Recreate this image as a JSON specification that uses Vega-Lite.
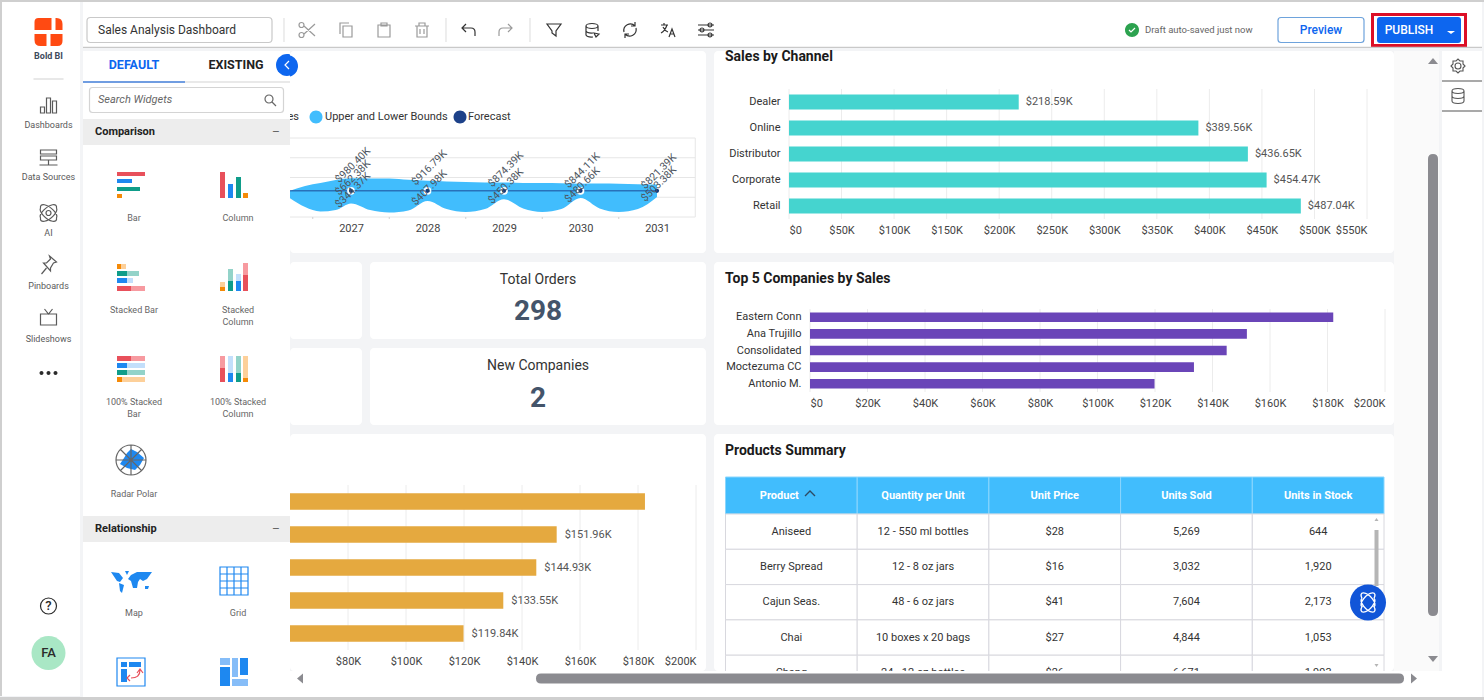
{
"$schema":"https://vega.github.io/schema/vega-lite/v6.json",
"background":"#f3f4f6",
"padding":0,
"params":[{"name":"glyphs","value":{
 "logo":"M -10 -14 H 3 V -2 H -14 V -10 Q -14 -14 -10 -14 Z M 7 -14 H 8 Q 14 -14 14 -8 V -2 H 7 Z M -14 2 H -2 V 14 H -8 Q -14 14 -14 8 Z M 2 2 H 14 V 9 Q 14 14 9 14 H 2 Z",
 "dots":"M -9 0 A 2 2 0 1 1 -5 0 A 2 2 0 1 1 -9 0 M -2 0 A 2 2 0 1 1 2 0 A 2 2 0 1 1 -2 0 M 5 0 A 2 2 0 1 1 9 0 A 2 2 0 1 1 5 0",
 "fa":"M 17 0 A 17 17 0 1 1 -17 0 A 17 17 0 1 1 17 0",
 "divider":"M -15 0 H 15",
 "dash":"M -8 8 V 2 H -4 V 8 Z M -2 8 V -7 H 2 V 8 Z M 4 8 V -4 H 8 V 8 Z",
 "server":"M -8 -8 H 8 V -4 H -8 Z M -8 -2 H 8 V 2 H -8 Z M 0 2 V 7 M -9 7 H 9",
 "atom":"M -8 -5 A 10 4.5 40 1 1 8 5 A 10 4.5 40 1 1 -8 -5 M 8 -5 A 10 4.5 -40 1 0 -8 5 A 10 4.5 -40 1 0 8 -5 M 2.5 0 A 2.5 2.5 0 1 1 -2.5 0 A 2.5 2.5 0 1 1 2.5 0",
 "pin":"M 1 -9 L 8 -3 L 5 -2 L 2 3 L 2 6 L -5 -2 L -2 -2 L 2 -6 Z M -2 3 L -7 9",
 "tv":"M -8 -4 H 8 V 7 H -8 Z M -4 -9 L 0 -4 L 4 -9",
 "help":"M 8 0 A 8 8 0 1 1 -8 0 A 8 8 0 1 1 8 0",
 "okdisc":"M 7 0 A 7 7 0 1 1 -7 0 A 7 7 0 1 1 7 0",
 "redbox":"M -48 -17 H 48 V 17 H -48 Z M -45 -14 V 14 H 45 V -14 Z",
 "publishbtn":"M -39 -13 H 39 Q 42 -13 42 -10 V 10 Q 42 13 39 13 H -39 Q -42 13 -42 10 V -10 Q -42 -13 -39 -13 Z",
 "caret":"M -4 1 H 4 L 0 4 Z",
 "namebox":"M -89 -12.5 H 89 Q 92.5 -12.5 92.5 -9 V 9 Q 92.5 12.5 89 12.5 H -89 Q -92.5 12.5 -92.5 9 V -9 Q -92.5 -12.5 -89 -12.5 Z",
 "baseline":"M -96.5 17.4 H 1302.5",
 "sep":"M 0 -12 V 12",
 "scissors":"M -4 -4 L 7 6 M -4 4 L 7 -6 M -4 -5 A 2.5 2.5 0 1 1 -9 -5 A 2.5 2.5 0 1 1 -4 -5 M -4 5 A 2.5 2.5 0 1 1 -9 5 A 2.5 2.5 0 1 1 -4 5",
 "copy":"M -3 -4 H 6 V 7 H -3 Z M -6 4 V -7 H 3",
 "paste":"M -6 -5 H 6 V 7 H -6 Z M -3 -7 H 3 V -4 H -3 Z",
 "delete":"M -7 -4 H 7 M -3 -4 V -7 H 3 V -4 M -5 -4 V 7 H 5 V -4 M -2 -1 V 4 M 2 -1 V 4",
 "undo":"M -6 -2 H 3 Q 7 -2 7 2 V 6 M -2 -6 L -6 -2 L -2 2",
 "redo":"M 6 -2 H -3 Q -7 -2 -7 2 V 6 M 2 -6 L 6 -2 L 2 2",
 "filter":"M -7 -6 H 7 L 2 1 V 6 L -2 3 V 1 Z",
 "db":"M -6 -4 A 6 2.5 0 1 1 6 -4 A 6 2.5 0 1 1 -6 -4 M -6 -4 V 5 A 6 2.5 0 0 0 1 7 M 6 -4 V 1 M -6 1 A 6 2.5 0 0 0 1 3 M 2 3 L 7 4 L 4 7 Z",
 "refresh":"M -6 2 A 6.5 6.5 0 0 1 5 -4 M 6 -2 A 6.5 6.5 0 0 1 -5 4 M 5 -8 V -4 H 1 M -5 8 V 4 H -1",
 "translate":"M -7 -5 H 0 M -4 -7 V -5 M -1 -5 Q -3 1 -7 3 M -5 -3 Q -3 1 0 2 M 1 7 L 4 -1 L 7 7 M 2 4 H 6",
 "sliders":"M -8 -5 H 8 M -8 0 H 8 M -8 5 H 8 M 6 -5 A 2 2 0 1 1 2 -5 A 2 2 0 1 1 6 -5 M -2 0 A 2 2 0 1 1 -6 0 A 2 2 0 1 1 -2 0 M 6 5 A 2 2 0 1 1 2 5 A 2 2 0 1 1 6 5",
 "tick":"M -3 0 L -1 2 L 3 -2",
 "previewbox":"M -40 -12.5 H 40 Q 43 -12.5 43 -9.5 V 9.5 Q 43 12.5 40 12.5 H -40 Q -43 12.5 -43 9.5 V -9.5 Q -43 -12.5 -40 -12.5 Z",
 "band":"M -103.5 -13 H 103.5 V 13 H -103.5 Z",
 "tabblue":"M -51 -1 H 51 V 1 H -51 Z",
 "collapse":"M 11 0 A 11 11 0 1 1 -11 0 A 11 11 0 1 1 11 0",
 "bar-r":"M -14 -13 H 14 V -9 H -14 Z","bar-b":"M -14 -6 H 1 V -2 H -14 Z","bar-t":"M -14 2 H 9 V 6 H -14 Z","bar-o":"M -14 9 H -9 V 13 H -14 Z",
 "col-r":"M -14 -13 H -9 V 13 H -14 Z","col-b":"M -6 -1 H -1 V 13 H -6 Z","col-t":"M 2 -8 H 7 V 13 H 2 Z","col-o":"M 9 8 H 14 V 13 H 9 Z",
 "sb-r":"M -14 9 H 0 V 14 H -14 Z","sb-b":"M -14 1 H -4 V 6 H -14 Z","sb-t":"M -14 -6 H -4 V -1 H -14 Z","sb-o":"M -14 -13 H -10 V -8 H -14 Z",
 "sb-rl":"M 0 9 H 14 V 14 H 0 Z","sb-bl":"M -4 1 H 2 V 6 H -4 Z","sb-tl":"M -4 -6 H 8 V -1 H -4 Z","sb-ol":"M -10 -13 H -5 V -8 H -10 Z",
 "sc-r":"M 9 -2 H 14 V 14 H 9 Z","sc-b":"M 2 4 H 7 V 14 H 2 Z","sc-t":"M -6 4 H -1 V 14 H -6 Z","sc-o":"M -14 10 H -9 V 14 H -14 Z",
 "sc-rl":"M 9 -14 H 14 V -2 H 9 Z","sc-bl":"M 2 -3 H 7 V 4 H 2 Z","sc-tl":"M -6 -8 H -1 V 4 H -6 Z","sc-ol":"M -14 5 H -9 V 10 H -14 Z",
 "pb-r":"M -14 -13 H 0 V -8 H -14 Z","pb-b":"M -14 -6 H -4 V -1 H -14 Z","pb-t":"M -14 1 H -4 V 6 H -14 Z","pb-o":"M -14 8 H -9 V 13 H -14 Z",
 "pb-rl":"M 0 -13 H 14 V -8 H 0 Z","pb-bl":"M -4 -6 H 14 V -1 H -4 Z","pb-tl":"M -4 1 H 14 V 6 H -4 Z","pb-ol":"M -9 8 H 14 V 13 H -9 Z",
 "pc-r":"M -14 -1 H -9 V 13 H -14 Z","pc-b":"M -6 4 H -1 V 13 H -6 Z","pc-t":"M 2 4 H 7 V 13 H 2 Z","pc-o":"M 9 9 H 14 V 13 H 9 Z",
 "pc-rl":"M -14 -13 H -9 V -1 H -14 Z","pc-bl":"M -6 -13 H -1 V 4 H -6 Z","pc-tl":"M 2 -13 H 7 V 4 H 2 Z","pc-ol":"M 9 -13 H 14 V 9 H 9 Z",
 "radar":"M 0 -11 L 6 -8 L 13 -2 L 9 5 L 4 10 L -4 8 L -11 4 L -7 -2 L -4 -7 Z",
 "map":"M -20 -9 L -12 -8 L -8 -3 L -11 1 L -14 0 Z M -12 2 L -7 4 L -9 12 L -11 10 Z M -6 -10 L -2 -10 L -4 -6 Z M 0 -6 L 6 -9 L 21 -9 L 16 -2 L 12 0 L 9 -2 L 7 1 L 6 7 L 2 7 L 0 0 L -3 -2 Z M 14 5 L 18 5 L 17 8 L 14 8 Z",
 "rel":"M -10 -10 H -4 V -5 H -10 Z M -2 -10 H 10 V -5 H -2 Z M -10 -3 H -4 V 10 H -10 Z",
 "tile":"M -14 -5 H -4 V 14 H -14 Z M 6 -14 H 14 V 3 H 6 Z",
 "tilel":"M -14 -14 H -4 V -7 H -14 Z M -2 -14 H 4 V 5 H -2 Z M -2 7 H 14 V 14 H -2 Z",
 "tabline":"M -103.5 0 H 103.5",
 "searchbox":"M -94 -12.5 H 94 Q 97 -12.5 97 -9.5 V 9.5 Q 97 12.5 94 12.5 H -94 Q -97 12.5 -97 9.5 V -9.5 Q -97 -12.5 -94 -12.5 Z",
 "lens":"M 3 -1 A 4 4 0 1 1 -5 -1 A 4 4 0 1 1 3 -1 M 2 2 L 6 6",
 "radarframe":"M 15 0 A 15 15 0 1 1 -15 0 A 15 15 0 1 1 15 0 M 0 -15 V 15 M -15 0 H 15 M -11 -11 L 11 11 M 11 -11 L -11 11",
 "grid":"M -14 -14 H 14 V 14 H -14 Z M -7 -14 V 14 M 0 -14 V 14 M 7 -14 V 14 M -14 -7 H 14 M -14 0 H 14 M -14 7 H 14",
 "relbox":"M -14 -14 H 14 V 14 H -14 Z",
 "relarrow":"M 9 -2 Q 9 6 0 6 M 6 1 L 9 -3 L 12 1 M -1 3 L -4 6 L -1 9",
 "chevron":"M 2 -4 L -2 0 L 2 4",
 "dot":"M 6.5 0 A 6.5 6.5 0 1 1 -6.5 0 A 6.5 6.5 0 1 1 6.5 0",
 "tup":"M -2 1 L 0 -2 L 2 1 Z",
 "tthumb":"M -2 -28 H 2 V 28 H -2 Z",
 "fab":"M 18 0 A 18 18 0 1 1 -18 0 A 18 18 0 1 1 18 0",
 "tdown":"M -2 -1 L 0 2 L 2 -1 Z",
 "fabatom":"M -6 -4 A 9 4 45 1 1 6 4 A 9 4 45 1 1 -6 -4 M 6 -4 A 9 4 -45 1 0 -6 4 A 9 4 -45 1 0 6 -4",
 "sortline":"M -5 2 L 0 -3 L 5 2",
 "vup":"M -5 3 L 0 -3 L 5 3 Z",
 "vthumb":"M -5 -226 Q -5 -231 0 -231 Q 5 -231 5 -226 V 226 Q 5 231 0 231 Q -5 231 -5 226 Z",
 "vdown":"M -5 -3 L 0 3 L 5 -3 Z",
 "gear":"M 3 0 A 3 3 0 1 1 -3 0 A 3 3 0 1 1 3 0 M 7 0 L 5 2 L 5 5 L 2 5 L 0 7 L -2 5 L -5 5 L -5 2 L -7 0 L -5 -2 L -5 -5 L -2 -5 L 0 -7 L 2 -5 L 5 -5 L 5 -2 Z",
 "stack":"M -6 -5 A 6 2.5 0 1 1 6 -5 A 6 2.5 0 1 1 -6 -5 M -6 -5 V 5 A 6 2.5 0 0 0 6 5 V -5 M -6 0 A 6 2.5 0 0 0 6 0",
 "rule":"M -16 0 H 24",
 "hleft":"M 3 -5 L -3 0 L 3 5 Z",
 "hthumb":"M -429 -5 H 429 Q 434 -5 434 0 Q 434 5 429 5 H -429 Q -434 5 -434 0 Q -434 -5 -429 -5 Z",
 "hright":"M -3 -5 L 3 0 L -3 5 Z"
}}],
"config":{"view":{"stroke":null},"font":"Roboto",
 "axis":{"labelFont":"Roboto","labelFontSize":11,"labelColor":"#444","grid":false,"ticks":false,"domain":false,"title":null,"labelPadding":5},
 "title":{"font":"Roboto","fontSize":14,"fontWeight":"bold","color":"#1a1a1a","anchor":"start","frame":"group"}},
"spacing":0,
"resolve":{"scale":{"color":"independent"}},
"vconcat":[
 {"width":1484,"height":2,"view":{"fill":"#cfcfcf"},"data":{"values":[]},"mark":"rule","encoding":{"x":{"datum":0,"type":"quantitative","axis":null}}},
 {"spacing":0,"resolve":{"scale":{"color":"independent"}},"hconcat":[
  {"width":2,"height":694,"view":{"fill":"#cfcfcf"},"data":{"values":[]},"mark":"rule","encoding":{"x":{"datum":0,"type":"quantitative","axis":null}}},
  {"width":78,"height":694,"view":{"fill":"#ffffff"},
   "data":{"values":[
    {"at":1,"k":"f","part":"logo","tone":"orange"},
    {"at":14,"k":"f","part":"dots","tone":"ink"},
    {"at":16,"k":"f","part":"fa","tone":"green"},
    {"at":3,"k":"s","part":"divider","tone":"line"},
    {"at":4,"k":"s","part":"dash","tone":"gray"},
    {"at":6,"k":"s","part":"server","tone":"gray"},
    {"at":8,"k":"s","part":"atom","tone":"gray"},
    {"at":10,"k":"s","part":"pin","tone":"gray"},
    {"at":12,"k":"s","part":"tv","tone":"gray"},
    {"at":15,"k":"s","part":"help","tone":"ink"},
    {"at":2,"k":"b","text":"Bold BI","tone":"navy"},
    {"at":5,"k":"t","text":"Dashboards","tone":"gray"},
    {"at":7,"k":"t","text":"Data Sources","tone":"gray"},
    {"at":9,"k":"t","text":"AI","tone":"gray"},
    {"at":11,"k":"t","text":"Pinboards","tone":"gray"},
    {"at":13,"k":"t","text":"Slideshows","tone":"gray"},
    {"at":15,"k":"l","text":"?","tone":"ink"},
    {"at":16,"k":"l","text":"FA","tone":"ink"}
   ]},
   "encoding":{
    "y":{"field":"at","type":"quantitative","axis":null,"scale":{"domain":[1,2,3,4,5,6,7,8,9,10,11,12,13,14,15,16],"range":[30,54,77,103,123,156,175,211,231,263,284,316,337,371,604,651]}},
    "color":{"field":"tone","type":"nominal","legend":null,"scale":{"domain":["orange","ink","green","line","gray","navy"],"range":["#ff4a12","#2b2b2b","#a9e7c5","#d8d8d8","#5a5a5a","#3d4a5c"]}}
   },
   "layer":[
    {"transform":[{"filter":"datum.k=='f'"}],"mark":{"type":"point","shape":{"expr":"glyphs[datum.part]"},"filled":true,"size":4,"opacity":1,"xOffset":7.5}},
    {"transform":[{"filter":"datum.k=='s'"}],"mark":{"type":"point","shape":{"expr":"glyphs[datum.part]"},"filled":false,"size":4,"opacity":1,"strokeWidth":1.2,"xOffset":7.5}},
    {"transform":[{"filter":"datum.k=='t'"}],"mark":{"type":"text","font":"Roboto","fontSize":9,"dx":7.5},"encoding":{"text":{"field":"text"}}},
    {"transform":[{"filter":"datum.k=='b'"}],"mark":{"type":"text","font":"Roboto","fontSize":9,"fontWeight":"bold","dx":7.5},"encoding":{"text":{"field":"text"}}},
    {"transform":[{"filter":"datum.k=='l'"}],"mark":{"type":"text","font":"Roboto","fontSize":13,"fontWeight":500,"dx":7.5},"encoding":{"text":{"field":"text"}}}
   ]},
  {"spacing":0,"resolve":{"scale":{"color":"independent"}},"vconcat":[
   {"width":1399,"height":46,"view":{"fill":"#ffffff"},
    "data":{"values":[
     {"at":2,"k":"s","part":"namebox","tone":"box"},
     {"at":2,"k":"s","part":"baseline","tone":"box"},
     {"at":3,"k":"s","part":"sep","tone":"line"},
     {"at":4,"k":"s","part":"scissors","tone":"soft"},
     {"at":5,"k":"s","part":"copy","tone":"soft"},
     {"at":6,"k":"s","part":"paste","tone":"soft"},
     {"at":7,"k":"s","part":"delete","tone":"soft"},
     {"at":8,"k":"s","part":"sep","tone":"line"},
     {"at":9,"k":"s","part":"undo","tone":"ink"},
     {"at":10,"k":"s","part":"redo","tone":"soft"},
     {"at":11,"k":"s","part":"sep","tone":"line"},
     {"at":12,"k":"s","part":"filter","tone":"ink"},
     {"at":13,"k":"s","part":"db","tone":"ink"},
     {"at":14,"k":"s","part":"refresh","tone":"ink"},
     {"at":15,"k":"s","part":"translate","tone":"ink"},
     {"at":16,"k":"s","part":"sliders","tone":"ink"},
     {"at":17,"k":"f","part":"okdisc","tone":"ok"},
     {"at":17,"k":"s","part":"tick","tone":"white"},
     {"at":19,"k":"s","part":"previewbox","tone":"previewline"},
     {"at":21,"k":"f","part":"redbox","tone":"red"},
     {"at":21,"k":"f","part":"publishbtn","tone":"blue"},
     {"at":23,"k":"f","part":"caret","tone":"white"},
     {"at":1,"k":"n","text":"Sales Analysis Dashboard","tone":"ink"},
     {"at":18,"k":"d","text":"Draft auto-saved just now","tone":"soft2"},
     {"at":19,"k":"c","text":"Preview","tone":"blue"},
     {"at":20,"k":"c","text":"PUBLISH","tone":"white"}
    ]},
    "encoding":{
     "x":{"field":"at","type":"quantitative","axis":null,"scale":{"domain":[1,2,3,4,5,6,7,8,9,10,11,12,13,14,15,16,17,18,19,20,21,23],"range":[15,96.5,201,225,263,301,339,363,385,423,447,471,509,547,585,623,1049,1062,1238,1326,1336,1368]}},
     "color":{"field":"tone","type":"nominal","legend":null,"scale":{"domain":["box","line","soft","ink","ok","white","previewline","red","blue","soft2"],"range":["#c9c9c9","#e2e2e2","#9a9a9a","#333333","#2ca24f","#ffffff","#6ea3dc","#dc0f27","#0d66ef","#666666"]}}
    },
    "layer":[
     {"transform":[{"filter":"datum.k=='f'"}],"mark":{"type":"point","shape":{"expr":"glyphs[datum.part]"},"filled":true,"size":4,"opacity":1,"yOffset":5}},
     {"transform":[{"filter":"datum.k=='s'"}],"mark":{"type":"point","shape":{"expr":"glyphs[datum.part]"},"filled":false,"size":4,"opacity":1,"strokeWidth":1.2,"yOffset":5}},
     {"transform":[{"filter":"datum.k=='n'"}],"mark":{"type":"text","align":"left","font":"Roboto","fontSize":12,"yOffset":5},"encoding":{"text":{"field":"text"}}},
     {"transform":[{"filter":"datum.k=='d'"}],"mark":{"type":"text","align":"left","font":"Roboto","fontSize":9.5,"yOffset":5},"encoding":{"text":{"field":"text"}}},
     {"transform":[{"filter":"datum.k=='c'"}],"mark":{"type":"text","font":"Roboto","fontSize":12,"fontWeight":500,"yOffset":5},"encoding":{"text":{"field":"text"}}}
    ]},
   {"spacing":0,"resolve":{"scale":{"color":"independent"}},"hconcat":[
    {"width":207,"height":646,"view":{"fill":"#ffffff"},
     "data":{"values":[
      {"cx":5,"cy":4,"k":"f","part":"band","tone":"band"},
      {"cx":5,"cy":13,"k":"f","part":"band","tone":"band"},
      {"cx":4,"cy":2,"k":"f","part":"tabblue","tone":"tab"},
      {"cx":11,"cy":1,"k":"f","part":"collapse","tone":"tab"},
      {"cx":3,"cy":5,"k":"f","part":"bar-r","tone":"red"},{"cx":3,"cy":5,"k":"f","part":"bar-b","tone":"blue"},{"cx":3,"cy":5,"k":"f","part":"bar-t","tone":"teal"},{"cx":3,"cy":5,"k":"f","part":"bar-o","tone":"orange"},
      {"cx":6,"cy":5,"k":"f","part":"col-r","tone":"red"},{"cx":6,"cy":5,"k":"f","part":"col-b","tone":"blue"},{"cx":6,"cy":5,"k":"f","part":"col-t","tone":"teal"},{"cx":6,"cy":5,"k":"f","part":"col-o","tone":"orange"},
      {"cx":3,"cy":7,"k":"f","part":"sb-r","tone":"red"},{"cx":3,"cy":7,"k":"f","part":"sb-b","tone":"blue"},{"cx":3,"cy":7,"k":"f","part":"sb-t","tone":"teal"},{"cx":3,"cy":7,"k":"f","part":"sb-o","tone":"orange"},
      {"cx":3,"cy":7,"k":"f","part":"sb-rl","tone":"redl"},{"cx":3,"cy":7,"k":"f","part":"sb-bl","tone":"bluel"},{"cx":3,"cy":7,"k":"f","part":"sb-tl","tone":"teall"},{"cx":3,"cy":7,"k":"f","part":"sb-ol","tone":"orangel"},
      {"cx":6,"cy":7,"k":"f","part":"sc-r","tone":"red"},{"cx":6,"cy":7,"k":"f","part":"sc-b","tone":"blue"},{"cx":6,"cy":7,"k":"f","part":"sc-t","tone":"teal"},{"cx":6,"cy":7,"k":"f","part":"sc-o","tone":"orange"},
      {"cx":6,"cy":7,"k":"f","part":"sc-rl","tone":"redl"},{"cx":6,"cy":7,"k":"f","part":"sc-bl","tone":"bluel"},{"cx":6,"cy":7,"k":"f","part":"sc-tl","tone":"teall"},{"cx":6,"cy":7,"k":"f","part":"sc-ol","tone":"orangel"},
      {"cx":3,"cy":9,"k":"f","part":"pb-r","tone":"red"},{"cx":3,"cy":9,"k":"f","part":"pb-b","tone":"blue"},{"cx":3,"cy":9,"k":"f","part":"pb-t","tone":"teal"},{"cx":3,"cy":9,"k":"f","part":"pb-o","tone":"orange"},
      {"cx":3,"cy":9,"k":"f","part":"pb-rl","tone":"redl"},{"cx":3,"cy":9,"k":"f","part":"pb-bl","tone":"bluel"},{"cx":3,"cy":9,"k":"f","part":"pb-tl","tone":"teall"},{"cx":3,"cy":9,"k":"f","part":"pb-ol","tone":"orangel"},
      {"cx":6,"cy":9,"k":"f","part":"pc-r","tone":"red"},{"cx":6,"cy":9,"k":"f","part":"pc-b","tone":"blue"},{"cx":6,"cy":9,"k":"f","part":"pc-t","tone":"teal"},{"cx":6,"cy":9,"k":"f","part":"pc-o","tone":"orange"},
      {"cx":6,"cy":9,"k":"f","part":"pc-rl","tone":"redl"},{"cx":6,"cy":9,"k":"f","part":"pc-bl","tone":"bluel"},{"cx":6,"cy":9,"k":"f","part":"pc-tl","tone":"teall"},{"cx":6,"cy":9,"k":"f","part":"pc-ol","tone":"orangel"},
      {"cx":3,"cy":11,"k":"f","part":"radar","tone":"blue"},
      {"cx":3,"cy":14,"k":"f","part":"map","tone":"blue"},
      {"cx":3,"cy":16,"k":"f","part":"rel","tone":"blue"},
      {"cx":6,"cy":16,"k":"f","part":"tile","tone":"blue"},
      {"cx":6,"cy":16,"k":"f","part":"tilel","tone":"bluel2"},
      {"cx":5,"cy":2,"k":"s","part":"tabline","tone":"line"},
      {"cx":5,"cy":3,"k":"s","part":"searchbox","tone":"line"},
      {"cx":9,"cy":3,"k":"s","part":"lens","tone":"gray"},
      {"cx":3,"cy":11,"k":"s","part":"radarframe","tone":"gray"},
      {"cx":6,"cy":14,"k":"s","part":"grid","tone":"blue"},
      {"cx":3,"cy":16,"k":"s","part":"relbox","tone":"blue"},
      {"cx":3,"cy":16,"k":"s","part":"relarrow","tone":"red"},
      {"cx":11,"cy":1,"k":"s","part":"chevron","tone":"white"},
      {"cx":4,"cy":1,"k":"tab","text":"DEFAULT","tone":"tab"},
      {"cx":7,"cy":1,"k":"tab","text":"EXISTING","tone":"ink"},
      {"cx":2,"cy":3,"k":"search","text":"Search Widgets","tone":"gray"},
      {"cx":1,"cy":4,"k":"sec","text":"Comparison","tone":"ink"},
      {"cx":1,"cy":13,"k":"sec","text":"Relationship","tone":"ink"},
      {"cx":10,"cy":4,"k":"dash","text":"–","tone":"gray"},
      {"cx":10,"cy":13,"k":"dash","text":"–","tone":"gray"},
      {"cx":4,"cy":6,"k":"lab","text":"Bar","tone":"gray"},
      {"cx":8,"cy":6,"k":"lab","text":"Column","tone":"gray"},
      {"cx":4,"cy":8,"k":"lab","text":"Stacked Bar","tone":"gray"},
      {"cx":8,"cy":8,"k":"lab","text":"Stacked\nColumn","tone":"gray"},
      {"cx":4,"cy":10,"k":"lab","text":"100% Stacked\nBar","tone":"gray"},
      {"cx":8,"cy":10,"k":"lab","text":"100% Stacked\nColumn","tone":"gray"},
      {"cx":4,"cy":12,"k":"lab","text":"Radar Polar","tone":"gray"},
      {"cx":4,"cy":15,"k":"lab","text":"Map","tone":"gray"},
      {"cx":8,"cy":15,"k":"lab","text":"Grid","tone":"gray"}
     ]},
     "encoding":{
      "x":{"field":"cx","type":"quantitative","axis":null,"scale":{"domain":[1,2,3,4,5,6,7,8,9,10,11],"range":[12,15,48,51,103.5,151,153,155,187,193,204]}},
      "y":{"field":"cy","type":"quantitative","axis":null,"scale":{"domain":[1,2,3,4,5,6,7,8,9,10,11,12,13,14,15,16],"range":[14,31,49,81,134,163,226,255,318,347,409,439,478,530,558,621]}},
      "color":{"field":"tone","type":"nominal","legend":null,"scale":{"domain":["band","tab","red","blue","teal","orange","redl","bluel","teall","orangel","bluel2","line","gray","white","ink"],"range":["#ededed","#0d66ef","#e8505b","#1e88f0","#0f9d8a","#f58a07","#f79aa0","#c3dffb","#93d3c9","#fdd09a","#86bdf8","#d4d4d4","#666666","#ffffff","#222222"]}}
     },
     "layer":[
      {"transform":[{"filter":"datum.k=='f'"}],"mark":{"type":"point","shape":{"expr":"glyphs[datum.part]"},"filled":true,"size":4,"opacity":1,"clip":true}},
      {"transform":[{"filter":"datum.k=='s'"}],"mark":{"type":"point","shape":{"expr":"glyphs[datum.part]"},"filled":false,"size":4,"opacity":1,"strokeWidth":1.2,"clip":true}},
      {"transform":[{"filter":"datum.k=='tab'"}],"mark":{"type":"text","font":"Roboto","fontSize":12.5,"fontWeight":"bold"},"encoding":{"text":{"field":"text"}}},
      {"transform":[{"filter":"datum.k=='search'"}],"mark":{"type":"text","align":"left","font":"Roboto","fontSize":11,"fontStyle":"italic"},"encoding":{"text":{"field":"text"}}},
      {"transform":[{"filter":"datum.k=='sec'"}],"mark":{"type":"text","align":"left","font":"Roboto","fontSize":11,"fontWeight":"bold"},"encoding":{"text":{"field":"text"}}},
      {"transform":[{"filter":"datum.k=='dash'"}],"mark":{"type":"text","font":"Roboto","fontSize":12},"encoding":{"text":{"field":"text"}}},
      {"transform":[{"filter":"datum.k=='lab'"}],"mark":{"type":"text","baseline":"top","lineBreak":"\n","lineHeight":12,"font":"Roboto","fontSize":9},"encoding":{"text":{"field":"text"}}}
     ]},
    {"spacing":0,"resolve":{"scale":{"color":"independent"}},"vconcat":[
     {"spacing":0,"resolve":{"scale":{"color":"independent"}},"hconcat":[
      {"spacing":8,"resolve":{"scale":{"color":"independent"}},"hconcat":[
       {"spacing":9,"resolve":{"scale":{"color":"independent"}},"vconcat":[
        {"width":416,"height":202,"view":{"fill":"#ffffff","cornerRadius":4},
         "resolve":{"scale":{"x":"independent","y":"independent"},"axis":{"x":"independent","y":"independent"}},
         "layer":[
          {"layer":[
           {"data":{"values":[{"tick":0},{"tick":500000},{"tick":1000000},{"tick":1500000},{"tick":2000000}]},
            "mark":{"type":"rule","color":"#e6e6e6","clip":true},
            "encoding":{
             "y":{"field":"tick","type":"quantitative","axis":null,"scale":{"domain":[0,2000000],"range":[166,87]}},
             "x":{"datum":2026,"type":"quantitative","axis":{"values":[2027,2028,2029,2030,2031],"format":"d","offset":-36,"labelFlush":false},"scale":{"domain":[2027,2031],"range":[61,367]}},
             "x2":{"datum":2031.5}}},
           {"data":{"values":[{"v":2031.5}]},"mark":{"type":"rule","color":"#e6e6e6"},
            "encoding":{"x":{"field":"v","type":"quantitative"},"y":{"datum":0,"type":"quantitative"},"y2":{"datum":2000000}}},
           {"data":{"values":[{"v":2026.5},{"v":2027.5},{"v":2028.5},{"v":2029.5},{"v":2030.5}]},"mark":{"type":"rule","color":"#cfcfcf"},
            "encoding":{"x":{"field":"v","type":"quantitative"},"y":{"datum":0,"type":"quantitative"},"y2":{"datum":-50000}}},
           {"data":{"values":[
             {"year":2026.2,"upper":662000,"lower":480000},{"year":2026.4,"upper":785000,"lower":253000},{"year":2026.6,"upper":860000,"lower":139000},{"year":2026.8,"upper":935000,"lower":177000},
             {"year":2027,"upper":980400,"lower":344370},{"year":2027.25,"upper":975000,"lower":177000},{"year":2027.5,"upper":975000,"lower":114000},{"year":2027.75,"upper":940000,"lower":165000},
             {"year":2028,"upper":916790,"lower":407980},{"year":2028.25,"upper":900000,"lower":200000},{"year":2028.5,"upper":885000,"lower":127000},{"year":2028.75,"upper":875000,"lower":200000},
             {"year":2029,"upper":874390,"lower":450380},{"year":2029.25,"upper":860000,"lower":215000},{"year":2029.5,"upper":860000,"lower":127000},{"year":2029.75,"upper":855000,"lower":200000},
             {"year":2030,"upper":844110,"lower":480660},{"year":2030.25,"upper":845000,"lower":215000},{"year":2030.5,"upper":840000,"lower":125000},{"year":2030.75,"upper":830000,"lower":200000},
             {"year":2031,"upper":821390,"lower":503380}]},
            "mark":{"type":"area","color":"#41bdfd","interpolate":"monotone","clip":true,"opacity":1},
            "encoding":{
             "x":{"field":"year","type":"quantitative"},
             "y":{"field":"upper","type":"quantitative"},"y2":{"field":"lower"}}},
           {"data":{"values":[{"year":2026,"forecast":662380},{"year":2027,"forecast":662380},{"year":2028,"forecast":662380},{"year":2029,"forecast":662380},{"year":2030,"forecast":662380},{"year":2031,"forecast":662380}]},
            "layer":[
             {"mark":{"type":"line","color":"#1d4d99","strokeWidth":1,"clip":true},"encoding":{"x":{"field":"year","type":"quantitative"},"y":{"field":"forecast","type":"quantitative"}}},
             {"transform":[{"filter":"datum.year>2026 && datum.year<2031"}],"mark":{"type":"point","filled":true,"color":"#ffffff","opacity":1,"size":60},"encoding":{"x":{"field":"year","type":"quantitative"},"y":{"field":"forecast","type":"quantitative"}}},
             {"transform":[{"filter":"datum.year>2026"}],"mark":{"type":"point","filled":true,"color":"#123b7c","opacity":1,"size":18},"encoding":{"x":{"field":"year","type":"quantitative"},"y":{"field":"forecast","type":"quantitative"}}}
            ]},
           {"data":{"values":[
             {"year":2027,"v":980400,"t":"$980.40K"},{"year":2027,"v":662380,"t":"$662.38K"},{"year":2027,"v":344370,"t":"$344.37K"},
             {"year":2028,"v":916790,"t":"$916.79K"},{"year":2028,"v":407980,"t":"$407.98K"},
             {"year":2029,"v":874390,"t":"$874.39K"},{"year":2029,"v":450380,"t":"$450.38K"},
             {"year":2030,"v":844110,"t":"$844.11K"},{"year":2030,"v":480660,"t":"$480.66K"},
             {"year":2031,"v":821390,"t":"$821.39K"},{"year":2031,"v":503380,"t":"$503.38K"}]},
            "mark":{"type":"text","angle":315,"font":"Roboto","fontSize":10.5,"color":"#4d5560","xOffset":2,"yOffset":-13},
            "encoding":{"x":{"field":"year","type":"quantitative"},"y":{"field":"v","type":"quantitative"},"text":{"field":"t"}}}
          ]},
          {"data":{"values":[
            {"at":0,"row":0,"k":"c","part":"collapse","tone":"tab"},
            {"at":2,"row":1,"k":"c","part":"dot","tone":"bound"},
            {"at":4,"row":1,"k":"c","part":"dot","tone":"fore"},
            {"at":1,"row":1,"k":"r","text":"Actual Values","tone":"ink"},
            {"at":3,"row":1,"k":"l","text":"Upper and Lower Bounds","tone":"ink"},
            {"at":5,"row":1,"k":"l","text":"Forecast","tone":"ink"}]},
           "encoding":{
            "x":{"field":"at","type":"quantitative","axis":null,"scale":{"domain":[0,1,2,3,4,5],"range":[-3,9,26,35,170,178]}},
            "y":{"field":"row","type":"quantitative","axis":null,"scale":{"domain":[0,1],"range":[15,66]}},
            "color":{"field":"tone","type":"nominal","legend":null,"scale":{"domain":["tab","bound","fore","ink"],"range":["#0d66ef","#41bdfd","#1d4189","#333333"]}}},
           "layer":[
            {"transform":[{"filter":"datum.k=='c'"}],"mark":{"type":"point","shape":{"expr":"glyphs[datum.part]"},"filled":true,"opacity":1,"clip":true,"size":4}},
            {"transform":[{"filter":"datum.k=='r'"}],"mark":{"type":"text","align":"right","font":"Roboto","fontSize":11,"clip":true},"encoding":{"text":{"field":"text"}}},
            {"transform":[{"filter":"datum.k=='l'"}],"mark":{"type":"text","align":"left","font":"Roboto","fontSize":11},"encoding":{"text":{"field":"text"}}}
           ]}
         ]},
        {"spacing":8,"hconcat":[
         {"width":72,"height":77,"view":{"fill":"#ffffff","cornerRadius":4},"data":{"values":[]},"mark":"rule","encoding":{"x":{"datum":0,"type":"quantitative","axis":null}}},
         {"width":336,"height":77,"view":{"fill":"#ffffff","cornerRadius":4},
          "data":{"values":[{"k":"label","t":"Total Orders"},{"k":"value","t":"298"}]},
          "encoding":{"y":{"field":"k","type":"nominal","axis":null,"scale":{"type":"point","padding":0,"range":[18,50]}},"text":{"field":"t"}},
          "layer":[
           {"transform":[{"filter":"datum.k=='label'"}],"mark":{"type":"text","font":"Roboto","fontSize":14,"color":"#333333"}},
           {"transform":[{"filter":"datum.k=='value'"}],"mark":{"type":"text","font":"Roboto","fontSize":28,"fontWeight":"bold","color":"#44546a"}}
          ]}
        ]},
        {"spacing":8,"hconcat":[
         {"width":72,"height":77,"view":{"fill":"#ffffff","cornerRadius":4},"data":{"values":[]},"mark":"rule","encoding":{"x":{"datum":0,"type":"quantitative","axis":null}}},
         {"width":336,"height":77,"view":{"fill":"#ffffff","cornerRadius":4},
          "data":{"values":[{"k":"label","t":"New Companies"},{"k":"value","t":"2"}]},
          "encoding":{"y":{"field":"k","type":"nominal","axis":null,"scale":{"type":"point","padding":0,"range":[18,51]}},"text":{"field":"t"}},
          "layer":[
           {"transform":[{"filter":"datum.k=='label'"}],"mark":{"type":"text","font":"Roboto","fontSize":14,"color":"#333333"}},
           {"transform":[{"filter":"datum.k=='value'"}],"mark":{"type":"text","font":"Roboto","fontSize":28,"fontWeight":"bold","color":"#44546a"}}
          ]}
        ]},
        {"width":416,"height":237,"view":{"fill":"#ffffff","cornerRadius":4},
         "resolve":{"scale":{"y":"independent"},"axis":{"y":"independent"}},
         "layer":[
          {"data":{"values":[{"tick":80000},{"tick":100000},{"tick":120000},{"tick":140000},{"tick":160000},{"tick":180000},{"tick":200000}]},
           "mark":{"type":"rule","color":"#ececec"},
           "encoding":{
            "x":{"field":"tick","type":"quantitative","scale":{"domain":[61434,200000],"range":[0,406]},"axis":{"values":[80000,100000,120000,140000,160000,180000,200000],"labelExpr":"'$'+datum.value/1000+'K'","offset":-21,"labelFlush":true}},
            "y":{"datum":0,"type":"quantitative","axis":null,"scale":{"domain":[0,1],"range":[216,51]}},"y2":{"datum":1}}},
          {"data":{"values":[
            {"company":"Eastern Conn","sales":182400},{"company":"Ana Trujillo","sales":151960,"label":"$151.96K"},{"company":"Consolidated","sales":144930,"label":"$144.93K"},{"company":"Moctezuma CC","sales":133550,"label":"$133.55K"},{"company":"Antonio M.","sales":119840,"label":"$119.84K"}]},
           "encoding":{
            "y":{"field":"company","type":"nominal","axis":null,"scale":{"domain":["Eastern Conn","Ana Trujillo","Consolidated","Moctezuma CC","Antonio M."],"range":[51,216],"paddingInner":0.5,"paddingOuter":0.25}},
            "x":{"field":"sales","type":"quantitative"}},
           "layer":[
            {"mark":{"type":"bar","color":"#e5a93f","clip":true}},
            {"transform":[{"filter":"datum.label"}],"mark":{"type":"text","align":"left","dx":8,"font":"Roboto","fontSize":11,"color":"#555555"},"encoding":{"text":{"field":"label"}}}
           ]}
         ]}
       ]},
       {"spacing":9,"vconcat":[
        {"width":680,"height":202,"view":{"fill":"#ffffff","cornerRadius":4},
         "title":{"text":"Sales by Channel","offset":-13,"dx":11},
         "resolve":{"scale":{"y":"independent"},"axis":{"y":"independent"}},
         "layer":[
          {"data":{"values":[{"tick":0},{"tick":50000},{"tick":100000},{"tick":150000},{"tick":200000},{"tick":250000},{"tick":300000},{"tick":350000},{"tick":400000},{"tick":450000},{"tick":500000},{"tick":550000}]},
           "mark":{"type":"rule","color":"#ececec"},
           "encoding":{
            "x":{"field":"tick","type":"quantitative","scale":{"domain":[0,550000],"range":[75,653]},"axis":{"values":[0,50000,100000,150000,200000,250000,300000,350000,400000,450000,500000,550000],"labelExpr":"'$'+datum.value/1000+(datum.value>0?'K':'')","offset":-34,"labelFlush":true}},
            "y":{"datum":0,"type":"quantitative","axis":null,"scale":{"domain":[0,1],"range":[168,38]}},"y2":{"datum":1}}},
          {"data":{"values":[
            {"channel":"Dealer","sales":218590,"label":"$218.59K"},{"channel":"Online","sales":389560,"label":"$389.56K"},{"channel":"Distributor","sales":436650,"label":"$436.65K"},{"channel":"Corporate","sales":454470,"label":"$454.47K"},{"channel":"Retail","sales":487040,"label":"$487.04K"}]},
           "encoding":{
            "y":{"field":"channel","type":"nominal","scale":{"domain":["Dealer","Online","Distributor","Corporate","Retail"],"range":[38,168],"paddingInner":0.42,"paddingOuter":0.21},"axis":{"offset":-75,"labelPadding":9,"labelColor":"#333333"}},
            "x":{"field":"sales","type":"quantitative"}},
           "layer":[
            {"mark":{"type":"bar","color":"#45d4cf"}},
            {"mark":{"type":"text","align":"left","dx":7,"font":"Roboto","fontSize":11,"color":"#555555"},"encoding":{"text":{"field":"label"}}}
           ]}
         ]},
        {"width":680,"height":163,"view":{"fill":"#ffffff","cornerRadius":4},
         "title":{"text":"Top 5 Companies by Sales","offset":-24,"dx":11},
         "resolve":{"scale":{"y":"independent"},"axis":{"y":"independent"}},
         "layer":[
          {"data":{"values":[{"tick":0},{"tick":20000},{"tick":40000},{"tick":60000},{"tick":80000},{"tick":100000},{"tick":120000},{"tick":140000},{"tick":160000},{"tick":180000},{"tick":200000}]},
           "mark":{"type":"rule","color":"#ececec"},
           "encoding":{
            "x":{"field":"tick","type":"quantitative","scale":{"domain":[0,200000],"range":[96,671]},"axis":{"values":[0,20000,40000,60000,80000,100000,120000,140000,160000,180000,200000],"labelExpr":"'$'+datum.value/1000+(datum.value>0?'K':'')","offset":-33,"labelFlush":true}},
            "y":{"datum":0,"type":"quantitative","axis":null,"scale":{"domain":[0,1],"range":[130,47]}},"y2":{"datum":1}}},
          {"data":{"values":[
            {"company":"Eastern Conn","sales":182000},{"company":"Ana Trujillo","sales":151960},{"company":"Consolidated","sales":144930},{"company":"Moctezuma CC","sales":133550},{"company":"Antonio M.","sales":119840}]},
           "mark":{"type":"bar","color":"#6a45b8"},
           "encoding":{
            "y":{"field":"company","type":"nominal","scale":{"domain":["Eastern Conn","Ana Trujillo","Consolidated","Moctezuma CC","Antonio M."],"range":[47,130],"paddingInner":0.42,"paddingOuter":0.21},"axis":{"offset":-96,"labelPadding":9,"labelColor":"#333333"}},
            "x":{"field":"sales","type":"quantitative"}}}
         ]},
        {"width":680,"height":237,"view":{"fill":"#ffffff","cornerRadius":4},
         "title":{"text":"Products Summary","offset":-24,"dx":11},
         "resolve":{"scale":{"x":"independent","y":"independent"}},
         "layer":[
          {"data":{"values":[{"col":"Product"},{"col":"Quantity per Unit"},{"col":"Unit Price"},{"col":"Units Sold"},{"col":"Units in Stock"}]},
           "encoding":{
            "x":{"field":"col","type":"nominal","axis":null,"scale":{"domain":["Product","Quantity per Unit","Unit Price","Units Sold","Units in Stock"],"range":[11.5,670],"padding":0}},
            "y":{"datum":"header","type":"nominal","axis":null,"scale":{"domain":["header"],"range":[43,80],"padding":0}}},
           "layer":[
            {"mark":{"type":"rect","fill":"#41bdfd","stroke":"#8bd6fd","strokeWidth":1}},
            {"transform":[{"filter":"datum.col!='Product'"}],"mark":{"type":"text","font":"Roboto","fontSize":11,"fontWeight":"bold","color":"#ffffff"},"encoding":{"text":{"field":"col"}}},
            {"transform":[{"filter":"datum.col=='Product'"}],"mark":{"type":"text","font":"Roboto","fontSize":11,"fontWeight":"bold","color":"#ffffff","dx":-12},"encoding":{"text":{"field":"col"}}}
           ]},
          {"data":{"values":[
            {"row":"Aniseed","col":"Product","t":"Aniseed"},{"row":"Aniseed","col":"Quantity per Unit","t":"12 - 550 ml bottles"},{"row":"Aniseed","col":"Unit Price","t":"$28"},{"row":"Aniseed","col":"Units Sold","t":"5,269"},{"row":"Aniseed","col":"Units in Stock","t":"644"},
            {"row":"Berry Spread","col":"Product","t":"Berry Spread"},{"row":"Berry Spread","col":"Quantity per Unit","t":"12 - 8 oz jars"},{"row":"Berry Spread","col":"Unit Price","t":"$16"},{"row":"Berry Spread","col":"Units Sold","t":"3,032"},{"row":"Berry Spread","col":"Units in Stock","t":"1,920"},
            {"row":"Cajun Seas.","col":"Product","t":"Cajun Seas."},{"row":"Cajun Seas.","col":"Quantity per Unit","t":"48 - 6 oz jars"},{"row":"Cajun Seas.","col":"Unit Price","t":"$41"},{"row":"Cajun Seas.","col":"Units Sold","t":"7,604"},{"row":"Cajun Seas.","col":"Units in Stock","t":"2,173"},
            {"row":"Chai","col":"Product","t":"Chai"},{"row":"Chai","col":"Quantity per Unit","t":"10 boxes x 20 bags"},{"row":"Chai","col":"Unit Price","t":"$27"},{"row":"Chai","col":"Units Sold","t":"4,844"},{"row":"Chai","col":"Units in Stock","t":"1,053"},
            {"row":"Chang","col":"Product","t":"Chang"},{"row":"Chang","col":"Quantity per Unit","t":"24 - 12 oz bottles"},{"row":"Chang","col":"Unit Price","t":"$26"},{"row":"Chang","col":"Units Sold","t":"6,671"},{"row":"Chang","col":"Units in Stock","t":"1,993"}]},
           "encoding":{
            "x":{"field":"col","type":"nominal","axis":null,"scale":{"domain":["Product","Quantity per Unit","Unit Price","Units Sold","Units in Stock"],"range":[11.5,670],"padding":0}},
            "y":{"field":"row","type":"nominal","axis":null,"scale":{"domain":["Aniseed","Berry Spread","Cajun Seas.","Chai","Chang"],"range":[80,256.5],"padding":0}}},
           "layer":[
            {"mark":{"type":"rect","fill":"#ffffff","stroke":"#d8d8de","strokeWidth":1,"clip":true}},
            {"mark":{"type":"text","font":"Roboto","fontSize":11,"color":"#333333","clip":true},"encoding":{"text":{"field":"t"}}}
           ]},
          {"data":{"values":[
            {"cx":3,"cy":2,"k":"f","part":"tup","tone":"gray"},
            {"cx":3,"cy":3,"k":"f","part":"tthumb","tone":"gray"},
            {"cx":2,"cy":4,"k":"f","part":"fab","tone":"blue"},
            {"cx":3,"cy":5,"k":"f","part":"tdown","tone":"gray"},
            {"cx":2,"cy":4,"k":"s","part":"fabatom","tone":"white"},
            {"cx":1,"cy":1,"k":"s","part":"sortline","tone":"dark"}]},
           "encoding":{
            "x":{"field":"cx","type":"quantitative","axis":null,"scale":{"domain":[1,2,3],"range":[96,654,662.5]}},
            "y":{"field":"cy","type":"quantitative","axis":null,"scale":{"domain":[1,2,3,4,5],"range":[60,86,124,168.5,231]}},
            "color":{"field":"tone","type":"nominal","legend":null,"scale":{"domain":["dark","gray","blue","white"],"range":["#2d4a63","#b5b5b5","#1155d8","#ffffff"]}}},
           "layer":[
            {"transform":[{"filter":"datum.k=='f'"}],"mark":{"type":"point","shape":{"expr":"glyphs[datum.part]"},"filled":true,"opacity":1,"size":4}},
            {"transform":[{"filter":"datum.k=='s'"}],"mark":{"type":"point","shape":{"expr":"glyphs[datum.part]"},"filled":false,"opacity":1,"size":4,"strokeWidth":1.4}}
           ]}
         ]}
       ]}
      ]},
      {"width":45,"height":620,"view":{"fill":"#fafafa"},
       "data":{"values":[{"at":1,"part":"vup"},{"at":2,"part":"vthumb"},{"at":3,"part":"vdown"}]},
       "mark":{"type":"point","shape":{"expr":"glyphs[datum.part]"},"filled":true,"size":4,"opacity":1,"color":"#8b8b90","xOffset":16.5},
       "encoding":{
        "y":{"field":"at","type":"quantitative","axis":null,"scale":{"domain":[1,2,3],"range":[10,334,608]}}}},
      {"width":40,"height":620,"view":{"fill":"#ffffff"},
       "data":{"values":[{"at":1,"part":"gear"},{"at":2,"part":"rule"},{"at":3,"part":"stack"},{"at":4,"part":"rule"}]},
       "mark":{"type":"point","shape":{"expr":"glyphs[datum.part]"},"filled":false,"size":4,"opacity":1,"color":"#555555","strokeWidth":1.1,"xOffset":-4},
       "encoding":{
        "y":{"field":"at","type":"quantitative","axis":null,"scale":{"domain":[1,2,3,4],"range":[15,30,45,60]}}}}
     ]},
     {"width":1192,"height":26,"view":{"fill":"#ffffff"},
      "data":{"values":[{"at":1,"part":"hleft"},{"at":2,"part":"hthumb"},{"at":3,"part":"hright"}]},
      "mark":{"type":"point","shape":{"expr":"glyphs[datum.part]"},"filled":true,"size":4,"opacity":1,"color":"#8b8b90","yOffset":-5.5},
      "encoding":{
       "x":{"field":"at","type":"quantitative","axis":null,"scale":{"domain":[1,2,3],"range":[10,680,1124]}}}}
    ]}
   ]}
  ]},
  {"width":2,"height":694,"view":{"fill":"#cfcfcf"},"data":{"values":[]},"mark":"rule","encoding":{"x":{"datum":0,"type":"quantitative","axis":null}}}
 ]},
 {"width":1484,"height":4,"view":{"fill":"#cfcfcf"},"data":{"values":[]},"mark":"rule","encoding":{"x":{"datum":0,"type":"quantitative","axis":null}}}
]
}
